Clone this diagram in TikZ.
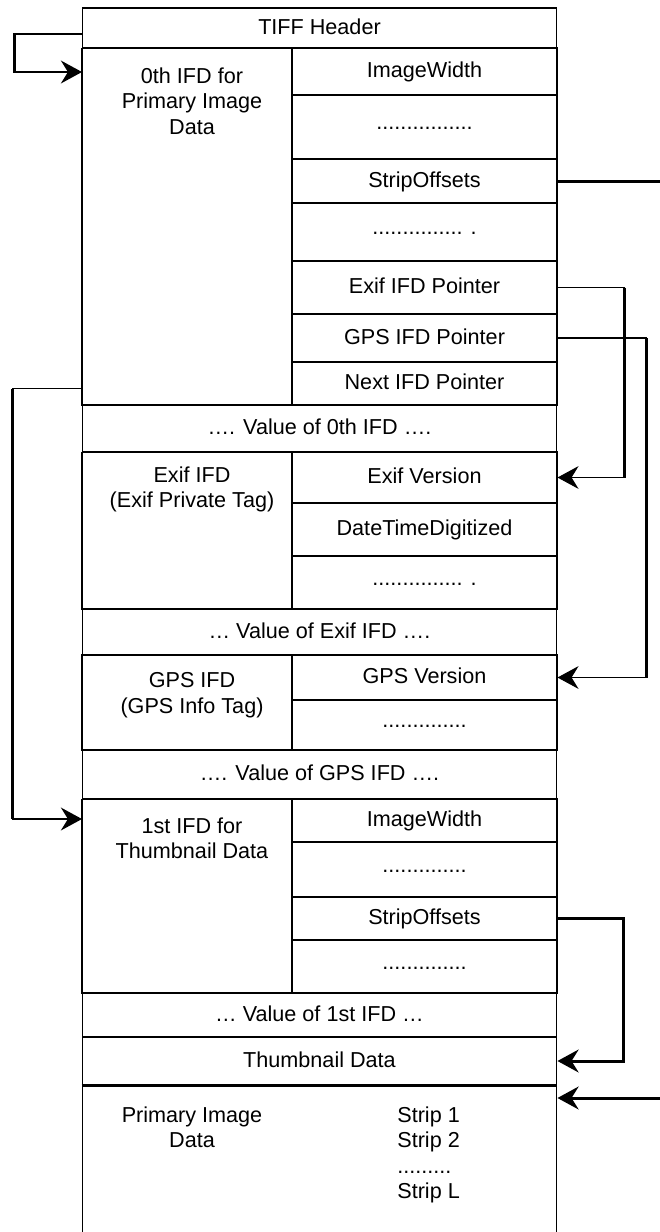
\documentclass[tikz,border=0pt]{standalone}
\usepackage{fontspec}
\setmainfont{Liberation Sans}
\usetikzlibrary{arrows.meta}

\begin{document}
\begin{tikzpicture}[x=0.02cm,y=-0.02cm,
  every node/.style={font=\fontsize{12.3}{14.6}\selectfont},
  row/.style={draw,line width=0.6pt,inner sep=0pt,minimum width=9.5cm,text height=0.85em,text depth=0.15em},
  tag/.style={draw,line width=0.6pt,inner sep=0pt,minimum width=5.3cm,text height=0.85em,text depth=0.15em},
  dots/.style={text height=0.45em},
  ifd/.style={draw,line width=0.6pt,inner sep=0pt,minimum width=4.2cm},
  txt/.style={align=center,anchor=north,inner sep=0pt},
  ptr/.style={line width=0.6pt},
  bar/.style={line width=1.7pt},
  link/.style={line width=1.2pt},
  tip/.style={-{Stealth[length=12pt,width=13pt,inset=4pt]}}]
\useasboundingbox (0,0) rectangle (660,1232);
\node[row,minimum height=0.8cm] (hdr) at (319.5,28) {TIFF Header};
\node[ifd,minimum height=7.14cm] (ifd0) at (187,226.5) {};
\node[txt] (ifd0txt) at (192,67) {0th IFD for\\Primary Image\\Data};
\node[tag,minimum height=0.94cm] (imgw0) at (424.5,71.5) {ImageWidth};
\node[tag,dots,minimum height=1.28cm] (dots0a) at (424.5,127) {................};
\node[tag,minimum height=0.88cm] (strip0) at (424.5,181) {StripOffsets};
\node[tag,dots,minimum height=1.16cm] (dots0b) at (424.5,232) {............... .};
\node[tag,minimum height=1.06cm] (exifptr) at (424.5,287.5) {Exif IFD Pointer};
\node[tag,minimum height=0.96cm] (gpsptr) at (424.5,338) {GPS IFD Pointer};
\node[tag,minimum height=0.86cm] (nextptr) at (424.5,383.5) {Next IFD Pointer};
\node[row,minimum height=0.94cm] (val0) at (319.5,428.5) {…. Value of 0th IFD ….};
\node[ifd,minimum height=3.14cm] (exif) at (187,530.5) {};
\node[txt] (exiftxt) at (192,466) {Exif IFD\\(Exif Private Tag)};
\node[tag,minimum height=1.02cm] (exifver) at (424.5,477.5) {Exif Version};
\node[tag,minimum height=1.06cm] (datetime) at (424.5,529.5) {DateTimeDigitized};
\node[tag,dots,minimum height=1.06cm] (dotsexif) at (424.5,582.5) {............... .};
\node[row,minimum height=0.92cm] (valexif) at (319.5,632) {… Value of Exif IFD ….};
\node[ifd,minimum height=1.9cm] (gps) at (187,702.5) {};
\node[txt] (gpstxt) at (192,672) {GPS IFD\\(GPS Info Tag)};
\node[tag,minimum height=0.9cm] (gpsver) at (424.5,677.5) {GPS Version};
\node[tag,dots,minimum height=1cm] (dotsgps) at (424.5,725) {..............};
\node[row,minimum height=0.98cm] (valgps) at (319.5,774.5) {…. Value of GPS IFD ….};
\node[ifd,minimum height=3.88cm] (ifd1) at (187,896) {};
\node[txt] (ifd1txt) at (192,817) {1st IFD for\\Thumbnail Data};
\node[tag,minimum height=0.86cm] (imgw1) at (424.5,820.5) {ImageWidth};
\node[tag,dots,minimum height=1.1cm] (dots1a) at (424.5,869.5) {..............};
\node[tag,minimum height=0.86cm] (strip1) at (424.5,918.5) {StripOffsets};
\node[tag,dots,minimum height=1.06cm] (dots1b) at (424.5,966.5) {..............};
\node[row,minimum height=0.88cm] (val1) at (319.5,1015) {… Value of 1st IFD …};
\node[row,minimum height=0.96cm] (thumb) at (319.5,1061) {Thumbnail Data};
\node[row,minimum height=3.2cm,anchor=north] (primary) at (319.5,1085) {};
\node[txt] (primtxt) at (192,1106) {Primary Image\\Data};
\node[txt,align=left,anchor=north west] (strips) at (397,1106) {Strip 1\\Strip 2\\.........\\Strip L};
\draw[line width=1.5pt] (thumb.south west) -- (thumb.south east);
\coordinate (in0) at (82,72);
\coordinate (in1) at (82,819);
\coordinate (out0) at (662,181);
\coordinate (out1) at (662,1098);
\draw[link,tip] ([yshift=-0.12cm]hdr.west) -- ++(-67,0) |- (in0);
\draw[bar] (strip0.east) -- (out0);
\draw[ptr] (exifptr.east) -- ++(67,0) coordinate (ex1);
\draw[bar] (ex1) -- (ex1 |- exifver.east) coordinate (ex2);
\draw[ptr,tip] (ex2) -- (exifver.east);
\draw[ptr] (gpsptr.east) -- ++(89,0) coordinate (gp1);
\draw[bar] (gp1) -- (gp1 |- gpsver.east) coordinate (gp2);
\draw[ptr,tip] (gp2) -- (gpsver.east);
\draw[ptr] ([yshift=-0.1cm]ifd0.west |- nextptr.west) -- ++(-69,0) coordinate (nx1);
\draw[bar] (nx1) -- (nx1 |- in1) coordinate (nx2);
\draw[link,tip] (nx2) -- (in1);
\draw[bar,tip] (strip1.east) -- ++(66,0) |- (thumb.east);
\draw[bar,tip] (out1) -- (out1 -| primary.east);
\end{tikzpicture}
\end{document}
